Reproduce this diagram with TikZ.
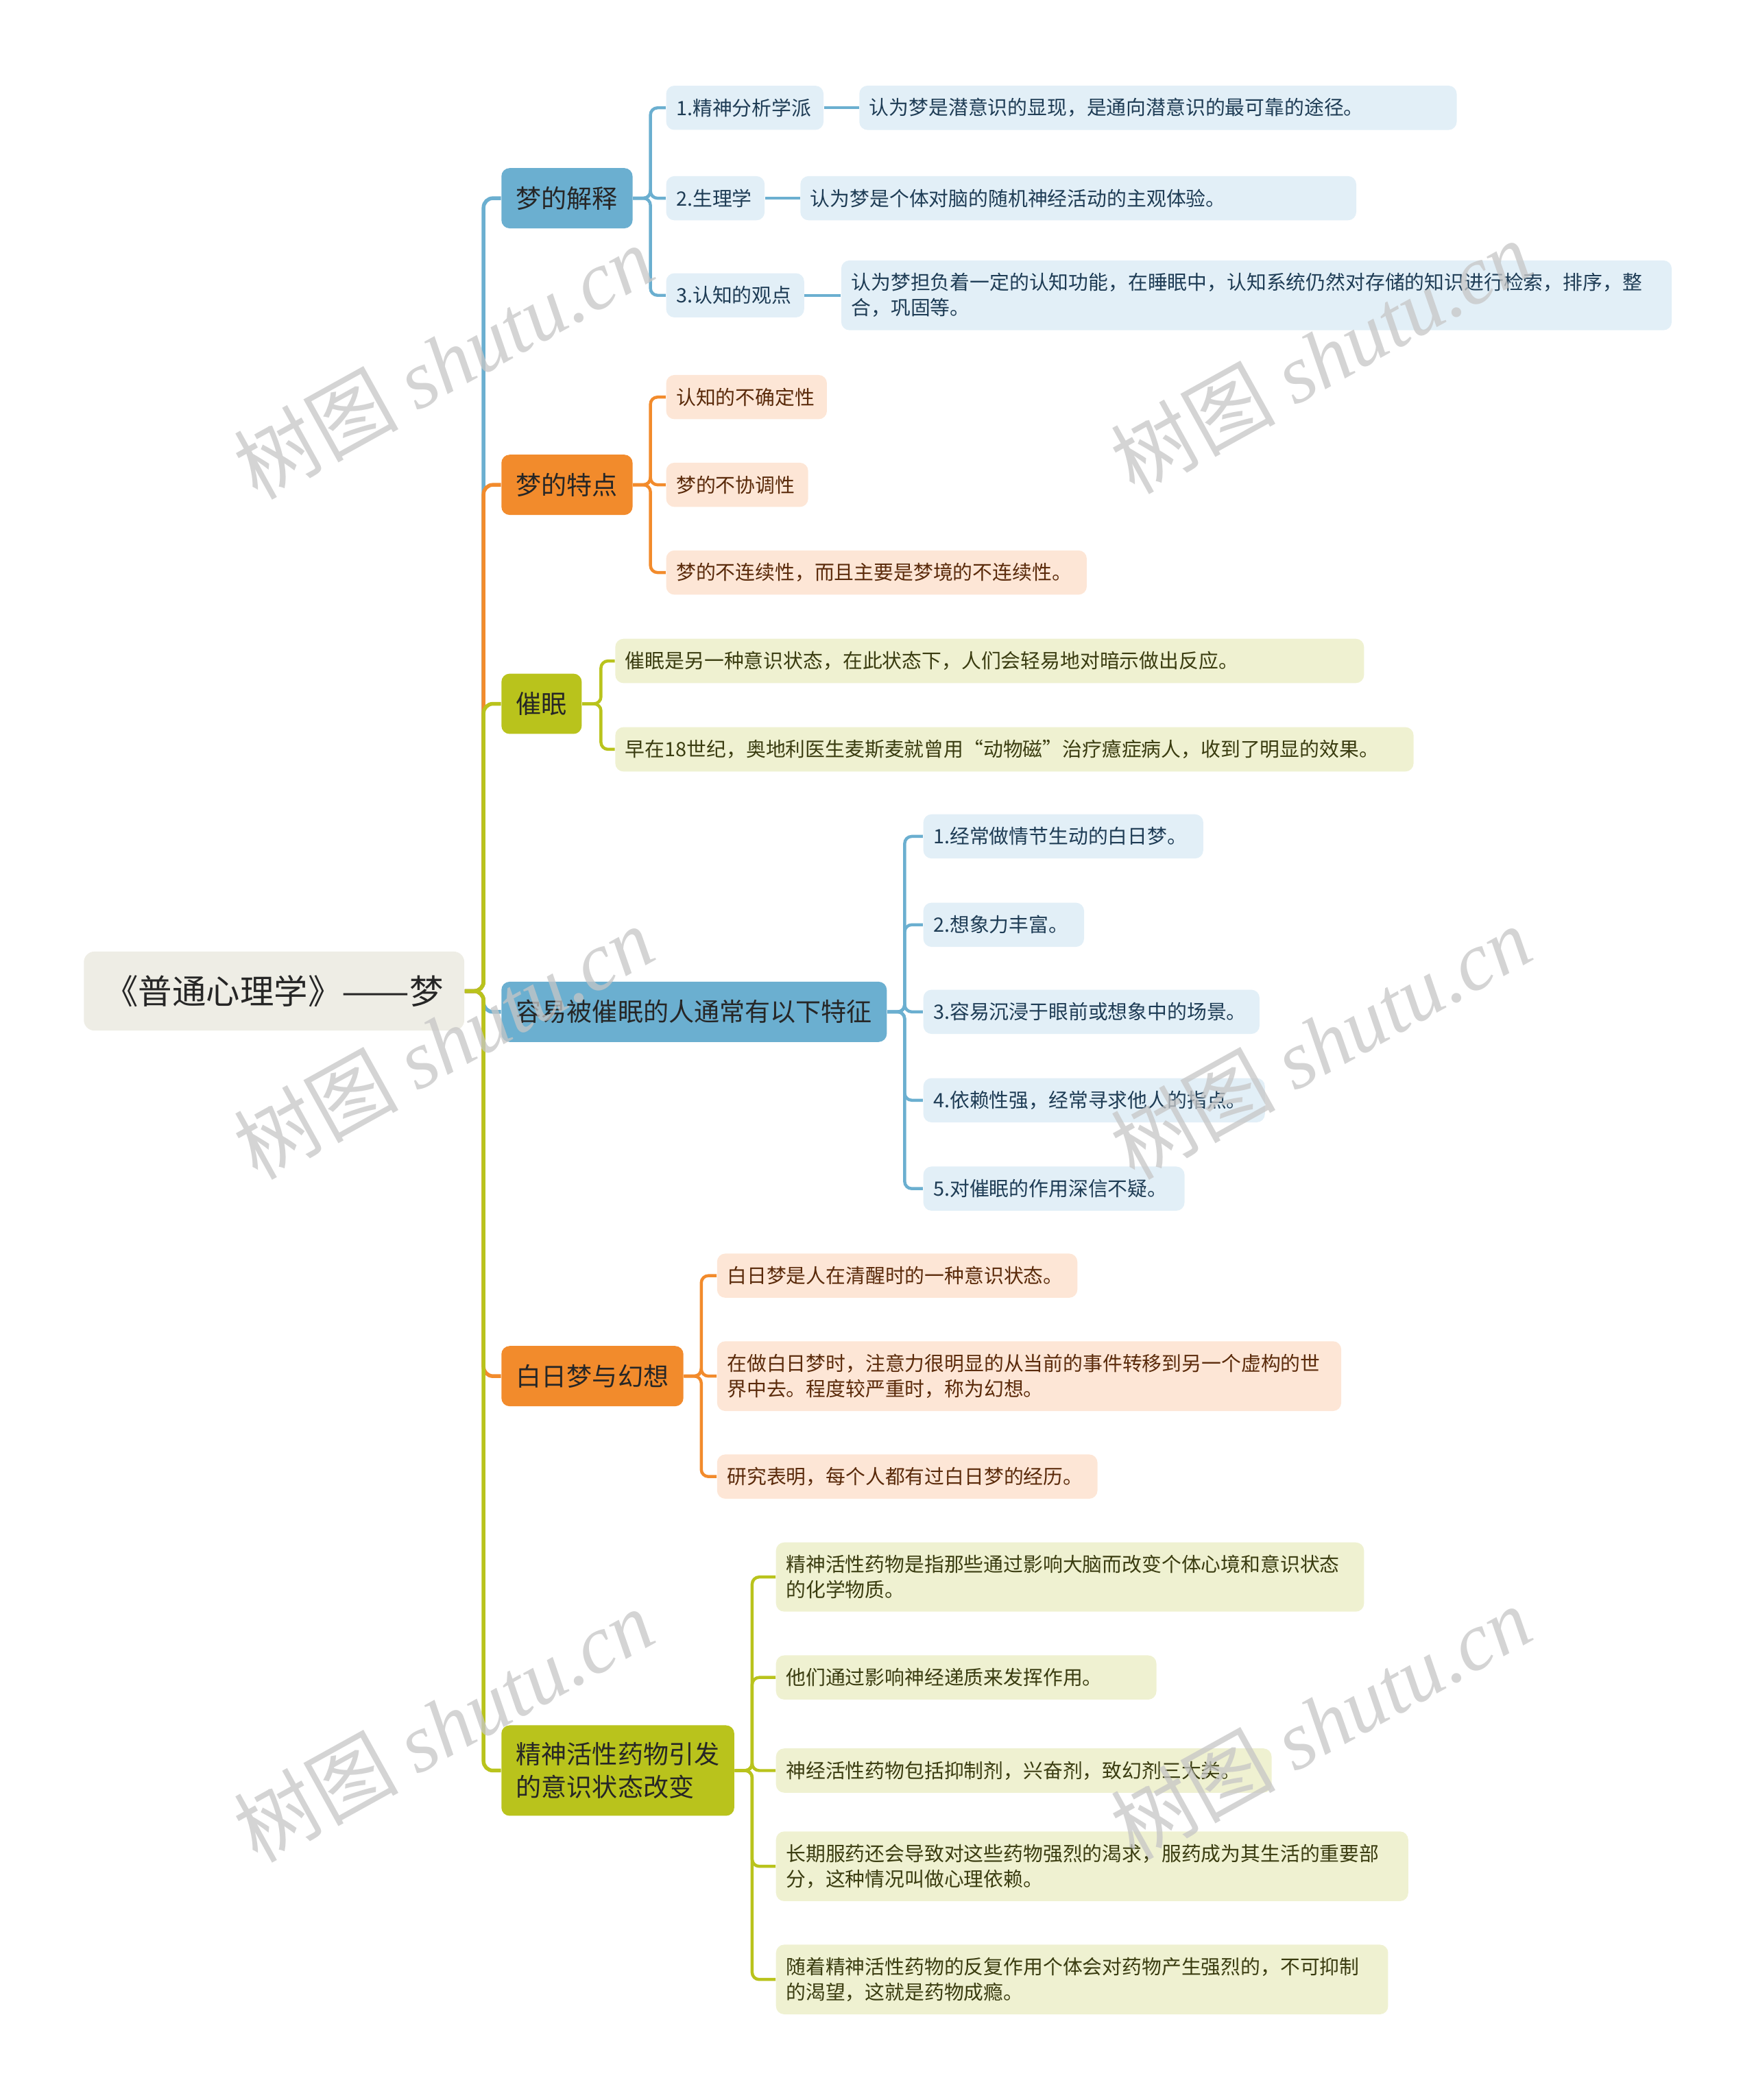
\documentclass[tikz,border=0pt]{standalone}
\usepackage{fontspec}
\setmainfont{Noto Sans CJK SC}
\newfontfamily\wmserif{Liberation Serif}
\usepackage{xcolor}
\usepackage{graphicx}
\usetikzlibrary{positioning}
\definecolor{bluM}{HTML}{6BAFD0}
\definecolor{bluL}{HTML}{E2EFF7}
\definecolor{bluT}{HTML}{1E3C55}
\definecolor{ornM}{HTML}{F28B2C}
\definecolor{ornL}{HTML}{FDE6D6}
\definecolor{ornT}{HTML}{5A2A0A}
\definecolor{olvM}{HTML}{B9C31C}
\definecolor{olvL}{HTML}{EFF1D1}
\definecolor{olvT}{HTML}{3A3C10}
\definecolor{rootF}{HTML}{EEEDE5}
\definecolor{wmG}{HTML}{C6C6C6}

\begin{document}
\begin{tikzpicture}[x=0.2mm,y=-0.2mm,
  root/.style={fill=rootF,rounded corners=4.5pt,inner xsep=0.31cm,minimum height=1.18cm,font=\fontsize{14.4}{17}\selectfont,text=black!85},
  topic/.style={rounded corners=3.5pt,inner xsep=0.22cm,inner ysep=0.25cm,minimum height=0.9cm,align=left,font=\fontsize{10.8}{14.2}\selectfont,text=black!85,anchor=west},
  leaf/.style={rounded corners=3.5pt,inner xsep=0.15cm,inner ysep=0.19cm,minimum height=0.66cm,align=left,font=\fontsize{8.4}{10.8}\selectfont,anchor=west},
  link/.style={line width=1.6pt,rounded corners=4pt},
  twig/.style={line width=1.3pt,rounded corners=3pt},
  wmark/.style={text=wmG,opacity=0.75,rotate=29,font=\fontsize{35}{35}\selectfont}]
\useasboundingbox (0,0) rectangle (1311,1568);
% root and main topics
\node[root,anchor=east] (root) at (347,740) {《普通心理学》\resizebox{2em}{\height}{——}梦};
\node[topic,fill=bluM] (t1) at (374,148) {梦的解释};
\node[topic,fill=ornM] (t2) at (374,362) {梦的特点};
\node[topic,fill=olvM] (t3) at (374,525.5) {催眠};
\node[topic,fill=bluM] (t4) at (374,755.5) {容易被催眠的人通常有以下特征};
\node[topic,fill=ornM] (t5) at (374,1027.5) {白日梦与幻想};
\node[topic,fill=olvM] (t6) at (374,1322) {精神活性药物引发\\的意识状态改变};
\coordinate (hub) at (361,740);
\foreach \i/\c in {1/bluM,2/ornM,3/olvM,4/bluM,5/ornM,6/olvM}
  \draw[link,draw=\c] (root.east) -- (hub) |- (t\i);
% 梦的解释
\foreach \n/\y/\w/\txt in {a1/80.5/2.05/1.精神分析学派,a2/148/1.17/2.生理学,a3/220.5/1.76/3.认知的观点}{
  \node[leaf,fill=bluL,text=bluT,text width=\w cm] (\n) at (497,\y) {\txt};
  \draw[twig,draw=bluM] (t1.east) -- ++(13,0) |- (\n);
}
\node[leaf,fill=bluL,text=bluT,text width=8.62cm,right=5.2mm of a1] (a1x) {认为梦是潜意识的显现，是通向潜意识的最可靠的途径。};
\node[leaf,fill=bluL,text=bluT,text width=8.0cm,right=5.2mm of a2] (a2x) {认为梦是个体对脑的随机神经活动的主观体验。};
\node[leaf,fill=bluL,text=bluT,text width=12.1cm,right=5.4mm of a3] (a3x) {认为梦担负着一定的认知功能，在睡眠中，认知系统仍然对存储的知识进行检索，排序，整\\合，巩固等。};
\foreach \n in {a1,a2,a3}
  \draw[twig,draw=bluM] (\n) -- (\n x);
% 梦的特点
\foreach \n/\y/\w/\txt in {b1/296.5/2.1/认知的不确定性,b2/362/1.82/梦的不协调性,b3/427.5/5.98/梦的不连续性，而且主要是梦境的不连续性。}{
  \node[leaf,fill=ornL,text=ornT,text width=\w cm] (\n) at (497,\y) {\txt};
  \draw[twig,draw=ornM] (t2.east) -- ++(13,0) |- (\n);
}
% 催眠
\foreach \n/\y/\w/\txt in {c1/493.5/10.88/催眠是另一种意识状态，在此状态下，人们会轻易地对暗示做出反应。,
                           c2/559.5/11.62/早在18世纪，奥地利医生麦斯麦就曾用“动物磁”治疗癔症病人，收到了明显的效果。}{
  \node[leaf,fill=olvL,text=olvT,text width=\w cm] (\n) at (459,\y) {\txt};
  \draw[twig,draw=olvM] (t3.east) -- ++(14,0) |- (\n);
}
% 容易被催眠的人
\foreach \n/\y/\w/\txt in {d1/624.5/3.88/1.经常做情节生动的白日梦。,d2/690.5/2.1/2.想象力丰富。,
                           d3/755.5/4.72/3.容易沉浸于眼前或想象中的场景。,d4/821.5/4.8/4.依赖性强，经常寻求他人的指点。,
                           d5/887.5/3.6/5.对催眠的作用深信不疑。}{
  \node[leaf,fill=bluL,text=bluT,text width=\w cm] (\n) at (689,\y) {\txt};
  \draw[twig,draw=bluM] (t4.east) -- ++(13,0) |- (\n);
}
% 白日梦与幻想
\foreach \n/\y/\w/\txt in {e1/952.5/5.08/白日梦是人在清醒时的一种意识状态。,
                           e2/1027.5/9.02/{在做白日梦时，注意力很明显的从当前的事件转移到另一个虚构的世\\界中去。程度较严重时，称为幻想。},
                           e3/1102.5/5.38/研究表明，每个人都有过白日梦的经历。}{
  \node[leaf,fill=ornL,text=ornT,text width=\w cm] (\n) at (535,\y) {\txt};
  \draw[twig,draw=ornM] (t5.east) -- ++(13,0) |- (\n);
}
% 精神活性药物
\foreach \n/\y/\w/\txt in {f1/1177.5/8.48/{精神活性药物是指那些通过影响大脑而改变个体心境和意识状态\\的化学物质。},
                           f2/1252.5/5.38/他们通过影响神经递质来发挥作用。,
                           f3/1322/7.1/神经活性药物包括抑制剂，兴奋剂，致幻剂三大类。,
                           f4/1393.5/9.14/{长期服药还会导致对这些药物强烈的渴求，服药成为其生活的重要部\\分，这种情况叫做心理依赖。},
                           f5/1478/8.84/{随着精神活性药物的反复作用个体会对药物产生强烈的，不可抑制\\的渴望，这就是药物成瘾。}}{
  \node[leaf,fill=olvL,text=olvT,text width=\w cm] (\n) at (579,\y) {\txt};
  \draw[twig,draw=olvM] (t6.east) -- ++(13,0) |- (\n);
}
% watermark
\foreach \k/\wx/\wy in {1/331/270,2/986/266,3/331/778,4/986/778,5/331/1288,6/986/1286}
  \node[wmark] (wm\k) at (\wx,\wy) {树图 {\wmserif\itshape shutu.cn}};
\end{tikzpicture}
\end{document}
